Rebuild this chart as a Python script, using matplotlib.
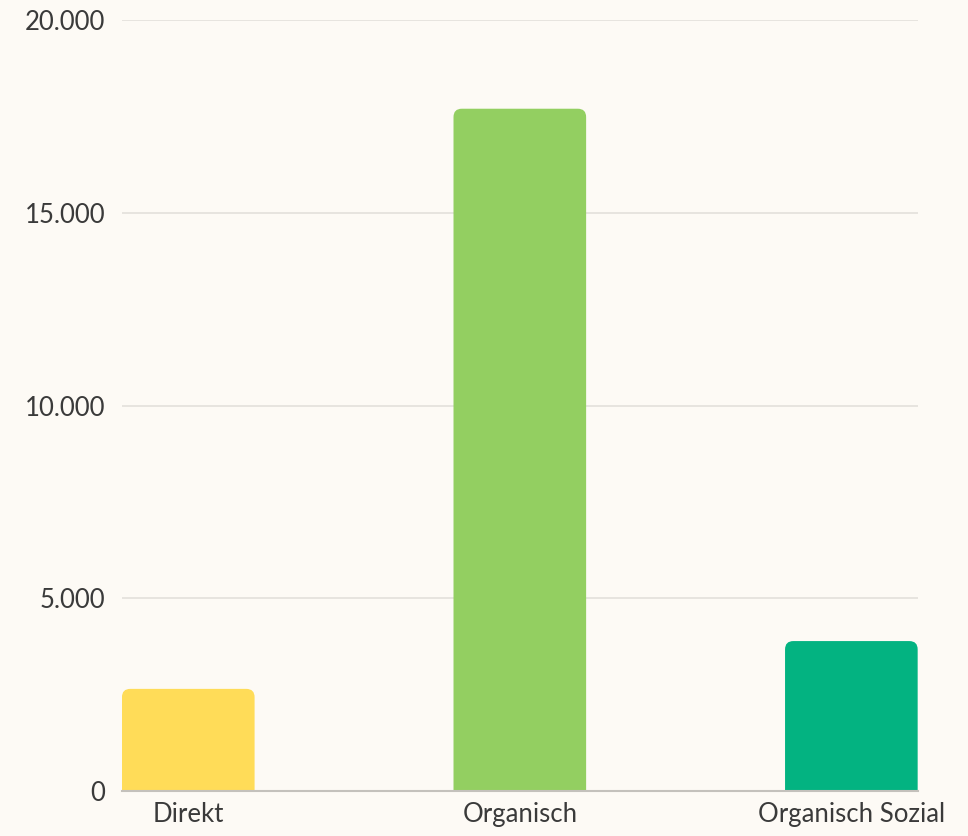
import matplotlib
matplotlib.use("Agg")
import matplotlib.pyplot as plt
from matplotlib.patches import FancyBboxPatch
from matplotlib.ticker import FuncFormatter

categories = ["Direkt", "Organisch", "Organisch Sozial"]
values = [2650, 17700, 3890]
colors = ["#ffdc58", "#93cf61", "#03b381"]
y_ticks = [0, 5000, 10000, 15000, 20000]

bg = "#fdfaf5"
plt.rcParams['font.family'] = ['Lato', 'DejaVu Sans']

fig = plt.figure(figsize=(9.68, 8.36), dpi=100, facecolor=bg)
ax = fig.add_axes([0.126, 0.0538, 0.822, 0.9222])
ax.set_facecolor(bg)

x = list(range(len(categories)))
width = 0.4
ax.set_xlim(-0.2, 2.2)
ax.set_ylim(0, 20000)

# rounded tops: px scale ratio for corner rounding
bbox = ax.get_window_extent()
x_per_px = 2.4 / bbox.width
y_per_px = 20000 / bbox.height
aspect = y_per_px / x_per_px

# start below 0 so the axes clip away the bottom corners
for xi, v, c in zip(x, values, colors):
    ax.add_patch(FancyBboxPatch((xi - width / 2, -1000), width, v + 1000,
                                boxstyle="round,pad=0,rounding_size=0.025",
                                mutation_aspect=aspect, fc=c, ec="none", zorder=3))

ax.set_yticks(y_ticks)
ax.yaxis.set_major_formatter(FuncFormatter(lambda v, p: f"{int(v):,}".replace(",", ".")))
ax.set_xticks(x)
ax.set_xticklabels(categories)
ax.grid(axis="y", color="#e3e0db", linewidth=1.2, zorder=0)
for s in ["top", "right", "left"]:
    ax.spines[s].set_visible(False)
ax.spines["bottom"].set_color("#c4c1bc")
ax.spines["bottom"].set_linewidth(1.5)
ax.spines["bottom"].set_zorder(4)
ax.tick_params(axis="both", length=0, labelsize=18.5, colors="#3a3a3a")
ax.tick_params(axis="y", pad=12)
ax.tick_params(axis="x", pad=8)

fig.savefig("out.png", dpi=100, facecolor=bg)
